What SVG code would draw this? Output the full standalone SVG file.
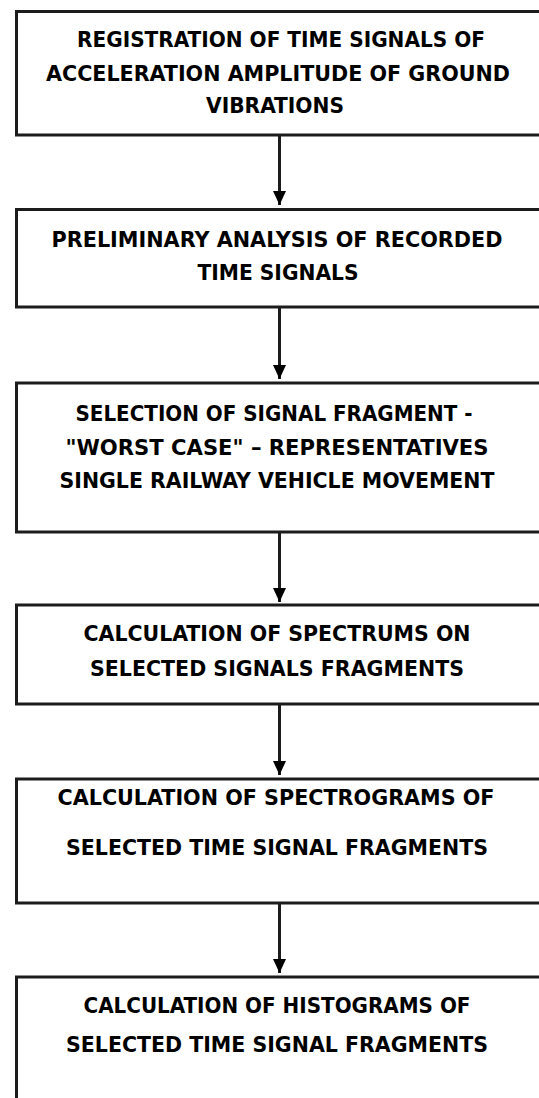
<svg xmlns="http://www.w3.org/2000/svg" width="539" height="1098" viewBox="0 0 539 1098">
<style>
.box{fill:#fff;stroke:#1c1c1c;stroke-width:3}
.t{font-family:"DejaVu Sans Condensed","Liberation Sans Narrow","DejaVu Sans","Liberation Sans",sans-serif;font-stretch:condensed;font-weight:bold;font-size:21.5px;fill:#000;text-anchor:middle}
.c{stroke:#1c1c1c;stroke-width:3;fill:none}
</style>
<defs>
<marker id="ah" markerUnits="userSpaceOnUse" markerWidth="14" markerHeight="13" refX="14" refY="6.5" orient="auto">
<path d="M0,0 L14,6.5 L0,13 Z" fill="#000"/>
</marker>
</defs>
<rect width="539" height="1098" fill="#fff"/>
<g id="n1">
<rect class="box" x="16.5" y="11.5" width="540" height="123.5"/>
<text class="t" x="281" y="47" textLength="408" lengthAdjust="spacingAndGlyphs">REGISTRATION OF TIME SIGNALS OF</text>
<text class="t" x="278" y="81" textLength="464" lengthAdjust="spacingAndGlyphs">ACCELERATION AMPLITUDE OF GROUND</text>
<text class="t" x="275" y="113" textLength="138" lengthAdjust="spacingAndGlyphs">VIBRATIONS</text>
</g>
<g id="n2">
<rect class="box" x="16.5" y="209.5" width="540" height="97.5"/>
<text class="t" x="277" y="247" textLength="451" lengthAdjust="spacingAndGlyphs">PRELIMINARY ANALYSIS OF RECORDED</text>
<text class="t" x="278" y="280" textLength="161" lengthAdjust="spacingAndGlyphs">TIME SIGNALS</text>
</g>
<g id="n3">
<rect class="box" x="16.5" y="383" width="540" height="149"/>
<text class="t" x="274" y="421" textLength="397" lengthAdjust="spacingAndGlyphs">SELECTION OF SIGNAL FRAGMENT -</text>
<text class="t" x="277" y="455" textLength="423" lengthAdjust="spacingAndGlyphs">"WORST CASE" – REPRESENTATIVES</text>
<text class="t" x="277" y="488" textLength="435" lengthAdjust="spacingAndGlyphs">SINGLE RAILWAY VEHICLE MOVEMENT</text>
</g>
<g id="n4">
<rect class="box" x="16.5" y="605" width="540" height="99"/>
<text class="t" x="277" y="641" textLength="387" lengthAdjust="spacingAndGlyphs">CALCULATION OF SPECTRUMS ON</text>
<text class="t" x="277" y="676" textLength="374" lengthAdjust="spacingAndGlyphs">SELECTED SIGNALS FRAGMENTS</text>
</g>
<g id="n5">
<rect class="box" x="16.5" y="779" width="540" height="124"/>
<text class="t" x="276" y="805" textLength="437" lengthAdjust="spacingAndGlyphs">CALCULATION OF SPECTROGRAMS OF</text>
<text class="t" x="277" y="855" textLength="422" lengthAdjust="spacingAndGlyphs">SELECTED TIME SIGNAL FRAGMENTS</text>
</g>
<g id="n6">
<rect class="box" x="16.5" y="977" width="540" height="130"/>
<text class="t" x="277" y="1013" textLength="387" lengthAdjust="spacingAndGlyphs">CALCULATION OF HISTOGRAMS OF</text>
<text class="t" x="277" y="1052" textLength="422" lengthAdjust="spacingAndGlyphs">SELECTED TIME SIGNAL FRAGMENTS</text>
</g>
<g id="connectors">
<line class="c" x1="279.5" y1="135" x2="279.5" y2="205" marker-end="url(#ah)"/>
<line class="c" x1="279.5" y1="307" x2="279.5" y2="379" marker-end="url(#ah)"/>
<line class="c" x1="279.5" y1="532" x2="279.5" y2="602" marker-end="url(#ah)"/>
<line class="c" x1="279.5" y1="704" x2="279.5" y2="775" marker-end="url(#ah)"/>
<line class="c" x1="279.5" y1="903" x2="279.5" y2="973" marker-end="url(#ah)"/>
</g>
</svg>
